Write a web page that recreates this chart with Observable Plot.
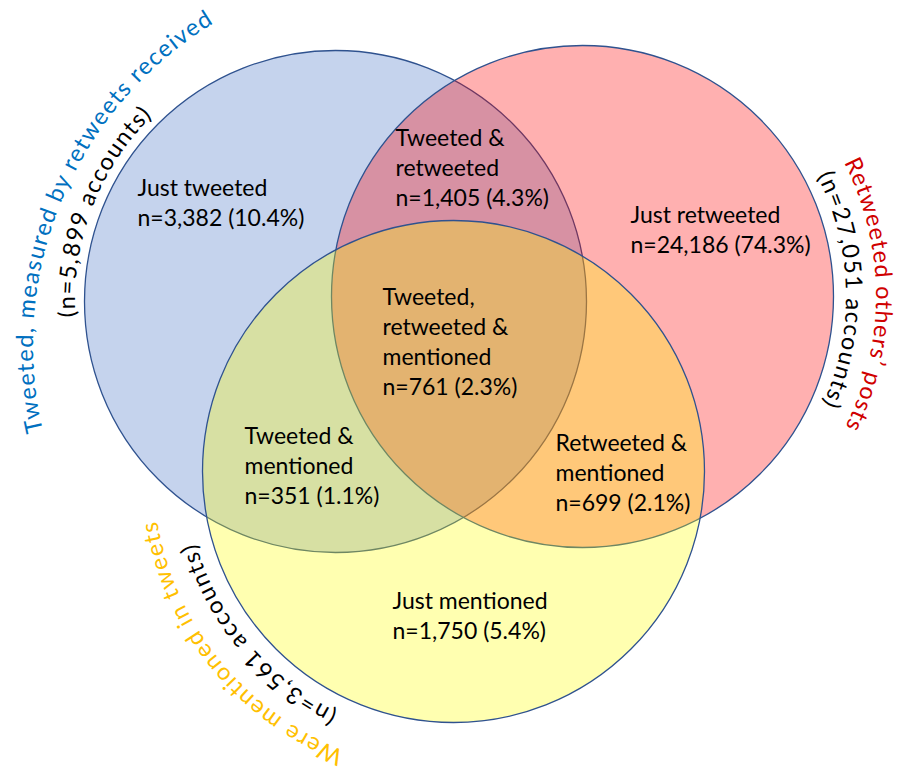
<!DOCTYPE html>
<html><head><meta charset="utf-8">
<script src="https://cdn.jsdelivr.net/npm/d3@7"></script>
<script src="https://cdn.jsdelivr.net/npm/@observablehq/plot@0.6"></script>
<style>body{margin:0;background:#fff} svg{display:block}</style>
</head><body><div id="chart"></div>
<script>
// ---- data ----
const sets = ["Tweeted", "Retweeted", "Mentioned"];
const setTitles = ["Tweeted, measured by retweets received", "Retweeted others’ posts", "Were mentioned in tweets"];
const setFills = ["#4472C4", "#FF0000", "#FFFF00"];
const titleColors = ["#0070C0", "#D00000", "#FFC000"];

const regionLabels = ["Just tweeted", "Tweeted &\nretweeted", "Just retweeted", "Tweeted,\nretweeted &\nmentioned", "Tweeted &\nmentioned", "Retweeted &\nmentioned", "Just mentioned"];
const regionSets = [["Tweeted"], ["Tweeted", "Retweeted"], ["Retweeted"], ["Tweeted", "Retweeted", "Mentioned"], ["Tweeted", "Mentioned"], ["Retweeted", "Mentioned"], ["Mentioned"]];
const regionCounts = [3382, 1405, 24186, 761, 351, 699, 1750];

// ---- layout (pixel units of the drawing) ----
const circleCx = [335, 582, 453];
const circleCy = [301, 296, 471];
const circleR = [251, 251, 251];
const labelX = [137, 395, 630, 382, 244, 555, 392];
const labelY = [201, 165.5, 228, 339.5, 463.5, 470.5, 613.5];
// arcs for curved labels: [centerX, centerY, baseline radius, startAngle, endAngle] (deg, clockwise from +x)
const titleArc = [[410, 345, 377, 166.8, 238.8], [582, 296, 294, -27, 26.6], [453, 471, 300, 111.2, 170.7]];
const countArc = [[335, 301, 260, 176.5, 225.6], [582, 296, 264, -27, 24.4], [453, 471, 267, 115.6, 164.6]];

const fmt = d3.format(",");
const total = d3.sum(regionCounts);
const regions = regionLabels.map((l, i) => ({
  x: labelX[i], y: labelY[i],
  text: `${l}\nn=${fmt(regionCounts[i])} (${(regionCounts[i] / total * 100).toFixed(1)}%)`
}));
const setTotals = sets.map(s => d3.sum(regionCounts.filter((c, i) => regionSets[i].includes(s))));
const circles = sets.map((s, i) => ({set: s, x: circleCx[i], y: circleCy[i], r: circleR[i], fill: setFills[i]}));

const FONT = "Lato, 'Open Sans', sans-serif";
const plot = Plot.plot({
  width: 898, height: 772, margin: 0,
  x: {domain: [0, 898], range: [0, 898], axis: null},
  y: {domain: [0, 772], range: [0, 772], axis: null},
  r: {type: "identity"},
  color: {type: "identity"},
  style: {fontFamily: FONT, background: "#fff", overflow: "visible"},
  marks: [
    Plot.dot(circles, {x: "x", y: "y", r: "r", fill: "fill", fillOpacity: 0.31, stroke: "#2F528F", strokeWidth: 1.3, sort: null}),
    Plot.text(regions, {x: "x", y: "y", text: "text", textAnchor: "start", lineAnchor: "middle", lineHeight: 1.304, fontSize: 23, fill: "#000"})
  ]
});
document.getElementById("chart").append(plot);

// curved labels along arcs, positioned through the plot's scales
const sx = plot.scale("x"), sy = plot.scale("y");
const svg = d3.select(plot);
const defs = svg.append("defs");
const rad = d => d * Math.PI / 180;
function arcPath(a, pad) {
  const cx = sx.apply(a[0]), cy = sy.apply(a[1]), R = a[2];
  const a1 = rad(a[3] - pad), a2 = rad(a[4] + pad);
  const p1 = [cx + R * Math.cos(a1), cy + R * Math.sin(a1)];
  const p2 = [cx + R * Math.cos(a2), cy + R * Math.sin(a2)];
  const large = (a[4] - a[3] + 2 * pad) > 180 ? 1 : 0;
  return `M${p1[0]},${p1[1]} A${R},${R} 0 ${large} 1 ${p2[0]},${p2[1]}`;
}
sets.forEach((s, i) => {
  const items = [
    {id: `title${i}`, arc: titleArc[i], text: setTitles[i], color: titleColors[i]},
    {id: `count${i}`, arc: countArc[i], text: `(n=${fmt(setTotals[i])} accounts)`, color: "#000"}
  ];
  for (const it of items) {
    defs.append("path").attr("id", it.id).attr("d", arcPath(it.arc, 15));
    const t = svg.append("text")
      .attr("font-family", FONT).attr("font-size", 23.5).attr("fill", it.color);
    const tp = t.append("textPath").attr("href", `#${it.id}`)
      .attr("startOffset", "50%").attr("text-anchor", "middle")
      .text(it.text);
    const target = rad(it.arc[4] - it.arc[3]) * it.arc[2];
    const len = tp.node().getComputedTextLength();
    const n = it.text.length;
    t.attr("letter-spacing", ((target - len) / n).toFixed(2));
  }
});
</script>
</body></html>
